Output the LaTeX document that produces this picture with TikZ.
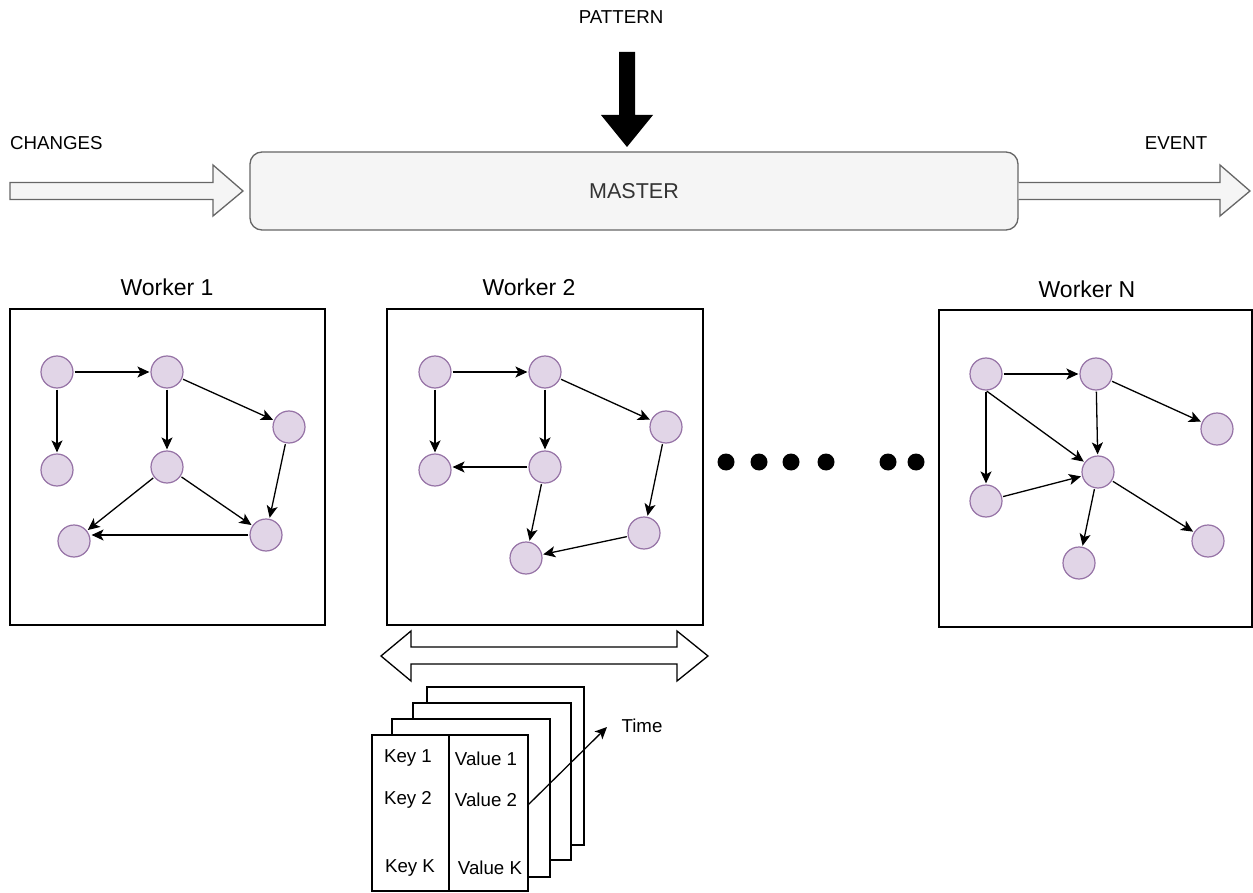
\documentclass[tikz,border=0pt]{standalone}
\usepackage{fontspec}
\setmainfont{Liberation Sans}
\usetikzlibrary{arrows.meta}
\definecolor{nodeFill}{HTML}{E1D5E7}
\definecolor{nodeStroke}{HTML}{9673A6}
\definecolor{grayFill}{HTML}{F5F5F5}
\definecolor{grayStroke}{HTML}{666666}
\definecolor{masterText}{HTML}{333333}
\tikzset{
  vtx/.style={circle, draw=nodeStroke, fill=nodeFill, minimum size=32pt, inner sep=0pt, line width=1.2pt},
  edge/.style={line width=1.3pt, -{Stealth[length=12pt,width=11pt,inset=3pt]}, shorten >=1pt, shorten <=1pt},
  wbox/.style={draw=black, line width=1.3pt, fill=white},
  lbl/.style={font=\fontsize{18.7}{20}\selectfont, inner sep=0pt},
  wtitle/.style={font=\fontsize{23}{25}\selectfont, inner sep=0pt},
  bigarrow/.style={draw=grayStroke, fill=grayFill, line width=1.3pt, line join=miter},
  page/.style={draw=black, fill=white, line width=1.3pt},
  dotc/.style={circle, fill=black, minimum size=17pt, inner sep=0pt},
}
\begin{document}
\begin{tikzpicture}[x=1pt,y=-1pt]
\useasboundingbox (0,0) rectangle (1253,893);
% Master
\node[draw=grayStroke, fill=grayFill, line width=1.3pt, rounded corners=12pt,
      minimum width=768pt, minimum height=78pt, inner sep=0pt,
      font=\fontsize{21.5}{24}\selectfont, text=masterText] (master) at (634,191) {MASTER};
% Changes arrow
\draw[bigarrow] (10,182.5) -- (213,182.5) -- (213,165) -- (243,191) -- (213,216) -- (213,199.5) -- (10,199.5) -- cycle;
\node[lbl, anchor=west] (changes) at (10,143) {CHANGES};
% Event arrow
\draw[bigarrow] (master.east |- 0,182.5) -- (1220,182.5) -- (1220,165) -- (1250,191) -- (1220,216) -- (1220,199.5) -- (master.east |- 0,199.5);
\node[lbl] (event) at (1176,143) {EVENT};
% Pattern arrow
\node[lbl] (pattern) at (621,17) {PATTERN};
\fill[black] (619,52) -- (635,52) -- (635,115) -- (653,115) -- (627,147) -- (601,115) -- (619,115) -- cycle;

% Worker 1
\node[wtitle] (t1) at (167,287) {Worker 1};
\draw[wbox] (10,309) rectangle (325,625);
\node[vtx] (w1a) at (57,372) {};
\node[vtx] (w1b) at (167,372) {};
\node[vtx] (w1c) at (289,427) {};
\node[vtx] (w1d) at (57,470) {};
\node[vtx] (w1e) at (167,467) {};
\node[vtx] (w1f) at (266,535) {};
\node[vtx] (w1g) at (74,541) {};
\draw[edge] (w1a) -- (w1b);
\draw[edge] (w1a) -- (w1d);
\draw[edge] (w1b) -- (w1e);
\draw[edge] (w1b) -- (w1c);
\draw[edge] (w1c) -- (w1f);
\draw[edge] (w1e) -- (w1f);
\draw[edge] (w1e) -- (w1g);
\draw[edge] (w1f.west) -- (w1g.east |- w1f.west);

% Worker 2
\node[wtitle] (t2) at (529,287) {Worker 2};
\draw[wbox] (387,309) rectangle (703,625);
\node[vtx] (w2a) at (435,372) {};
\node[vtx] (w2b) at (545,372) {};
\node[vtx] (w2c) at (666,427) {};
\node[vtx] (w2d) at (435,470) {};
\node[vtx] (w2e) at (545,467) {};
\node[vtx] (w2f) at (644,533) {};
\node[vtx] (w2g) at (526,558) {};
\draw[edge] (w2a) -- (w2b);
\draw[edge] (w2a) -- (w2d);
\draw[edge] (w2b) -- (w2e);
\draw[edge] (w2b) -- (w2c);
\draw[edge] (w2e.west) -- (w2d.east |- w2e.west);
\draw[edge] (w2e) -- (w2g);
\draw[edge] (w2c) -- (w2f);
\draw[edge] (w2f) -- (w2g);

% Worker N
\node[wtitle] (tn) at (1087,289) {Worker N};
\draw[wbox] (939,310) rectangle (1252,627);
\node[vtx] (wna) at (986,374) {};
\node[vtx] (wnb) at (1096,374) {};
\node[vtx] (wnc) at (1217,429) {};
\node[vtx] (wnd) at (986,501) {};
\node[vtx] (wne) at (1098,472) {};
\node[vtx] (wnf) at (1208,541) {};
\node[vtx] (wng) at (1079,563) {};
\draw[edge] (wna) -- (wnb);
\draw[edge] (wna.south) -- (wnd);
\draw[edge] (wna.south) -- (wne);
\draw[edge] (wnb) -- (wne);
\draw[edge] (wnb) -- (wnc);
\draw[edge] (wnd) -- (wne);
\draw[edge] (wne) -- (wng);
\draw[edge] (wne) -- (wnf);

% Ellipsis dots
\foreach \x/\n in {726/1,759/2,791/3,826/4,888/5,916/6} {
  \node[dotc] (dot\n) at (\x,462) {};
}

% Double arrow
\draw[draw=black, fill=white, line width=1.3pt, line join=miter]
  (381,656) -- (411,631) -- (411,647) -- (677,647) -- (677,631) -- (708,656)
  -- (677,681) -- (677,664) -- (411,664) -- (411,681) -- cycle;

% Pages
\draw[page] (427,687) rectangle (584,845);
\draw[page] (413,703) rectangle (571,860);
\draw[page] (392,719) rectangle (550,877);
\draw[page] (372,735) rectangle (528,891);
\draw[black, line width=1.3pt] (449,735) -- (449,891);
\node[lbl] (k1) at (408,758) {Key 1};
\node[lbl] (k2) at (408,800) {Key 2};
\node[lbl] (kk) at (410,868) {Key K};
\node[lbl] (v1) at (486,759) {Value 1};
\node[lbl] (v2) at (486,800) {Value 2};
\node[lbl] (vk) at (490,868) {Value K};
\node[lbl] (time) at (642,726) {Time};
\coordinate (tstart) at (528,805);
\coordinate (tend) at (607,727);
\draw[line width=1.3pt, -{Stealth[length=12pt,width=11pt,inset=3pt]}] (tstart) -- (tend);
\end{tikzpicture}
\end{document}
